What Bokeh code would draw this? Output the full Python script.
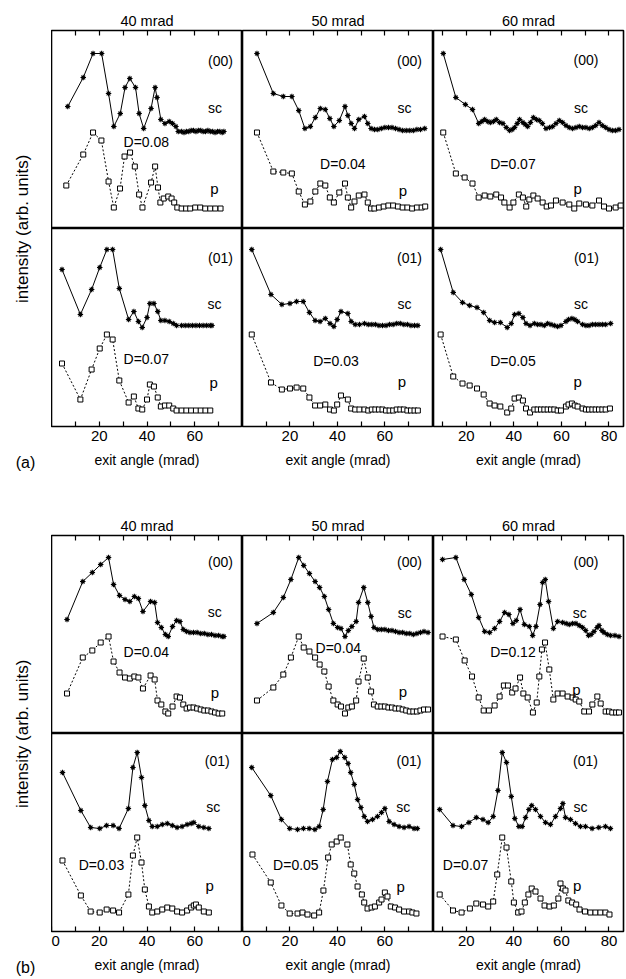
import math
from bokeh.plotting import figure
from bokeh.layouts import row, column
from bokeh.models import Range1d, FixedTicker, LinearAxis
from bokeh.core.properties import value
from bokeh.embed import file_html
from bokeh.resources import INLINE

FONT = "Liberation Sans"

# ---------------- data (exit angle in mrad, intensity in arb. units) ----------------
# panel (a), 40 mrad, (00)
A40_00_SC_X = [6.8, 13.3, 17.4, 21.0, 23.9, 26.1, 28.8, 30.8, 32.8, 35.2, 36.7, 38.6, 41.7, 43.4, 44.2, 45.8, 47.5, 49.3, 50.7, 52.1, 53.1, 54.5, 55.5, 56.5, 57.5, 58.5, 59.5, 60.5, 61.5, 62.5, 63.5, 64.5, 65.5, 66.5, 67.5, 68.5, 69.5, 70.5, 71.5, 72.2]
A40_00_SC_Y = [122, 151, 175, 175, 135, 102, 115, 141, 150, 141, 115, 100, 120, 141, 131, 109, 105, 107, 105, 102, 97, 97, 96, 97, 97, 98, 98, 97, 98, 98, 97, 97, 98, 97, 97, 96, 97, 97, 96, 97]
A40_00_P_X = [6.2, 13.3, 17.4, 20.9, 23.9, 26.1, 28.7, 30.6, 32.9, 34.9, 36.7, 38.1, 41.7, 43.4, 44.6, 45.6, 47.0, 48.9, 50.3, 51.4, 52.7, 54.5, 56.4, 58.1, 60.2, 62.3, 64.4, 66.5, 68.6, 70.8]
A40_00_P_Y = [43, 74, 96, 88, 47, 21, 40, 72, 76, 62, 34, 21, 46, 62, 41, 26, 30, 32, 30, 26, 21, 20, 20, 20, 21, 21, 20, 20, 20, 20]
# panel (a), 50 mrad, (00)
A50_00_SC_X = [6.1, 13.0, 17.2, 20.8, 23.7, 26.3, 28.6, 30.7, 32.8, 34.9, 36.8, 38.5, 40.8, 43.2, 44.4, 45.8, 47.2, 49.0, 51.4, 52.8, 54.2, 55.6, 57.0, 58.5, 60.0, 61.5, 63.0, 64.5, 66.0, 67.5, 69.0, 70.5, 72.0, 73.5, 75.0, 76.8]
A50_00_SC_Y = [175, 135, 132, 132, 118, 100, 102, 111, 120, 119, 110, 102, 108, 122, 113, 105, 100, 109, 112, 105, 100, 99, 99, 100, 101, 101, 101, 100, 99, 98, 98, 98, 98, 99, 99, 100]
A50_00_P_X = [6.1, 13.0, 17.2, 20.8, 23.7, 26.3, 28.6, 30.7, 32.8, 34.9, 36.8, 38.5, 40.8, 43.2, 44.4, 45.8, 47.2, 49.0, 51.4, 52.8, 54.2, 55.6, 57.5, 59.5, 61.5, 63.5, 65.5, 67.5, 69.5, 71.5, 73.5, 75.5, 77.0]
A50_00_P_Y = [96, 57, 56, 55, 37, 24, 27, 37, 45, 43, 31, 26, 36, 45, 31, 21, 27, 33, 34, 26, 20, 20, 21, 22, 23, 23, 22, 21, 21, 20, 21, 21, 22]
# panel (a), 60 mrad, (00)
A60_00_SC_X = [10.3, 15.6, 19.6, 22.6, 25.2, 26.5, 27.7, 29.0, 30.1, 31.4, 32.6, 34.0, 35.4, 36.8, 38.2, 39.3, 40.3, 41.4, 42.4, 43.8, 44.8, 45.8, 47.0, 48.2, 49.5, 50.7, 52.0, 53.5, 55.0, 56.3, 57.7, 59.1, 60.5, 61.9, 63.3, 64.7, 66.1, 67.5, 68.9, 70.3, 71.7, 73.0, 74.4, 75.8, 77.2, 78.6, 80.0, 81.4, 82.8, 84.2]
A60_00_SC_Y = [175, 131, 124, 119, 105, 107, 109, 107, 106, 107, 109, 106, 105, 101, 98, 99, 101, 105, 109, 106, 104, 102, 106, 111, 109, 108, 105, 100, 101, 102, 105, 108, 106, 103, 101, 100, 101, 102, 101, 101, 100, 101, 103, 106, 103, 101, 99, 98, 98, 99]
A60_00_P_X = [10.3, 15.6, 19.3, 22.6, 25.2, 27.7, 30.1, 32.6, 34.6, 36.0, 38.2, 39.8, 42.1, 43.8, 45.2, 46.5, 48.2, 50.0, 52.1, 53.8, 55.6, 57.7, 60.5, 63.3, 65.4, 67.5, 70.3, 73.0, 75.8, 77.9, 80.0, 82.8, 84.9]
A60_00_P_Y = [96, 55, 51, 45, 31, 33, 32, 34, 31, 26, 21, 26, 34, 31, 22, 29, 33, 30, 26, 22, 23, 28, 26, 24, 20, 25, 24, 23, 28, 22, 20, 21, 23]
# panel (a), 40 mrad, (01)
A40_01_SC_X = [4.4, 12.1, 16.8, 20.2, 23.2, 25.6, 28.4, 32.3, 34.5, 36.4, 38.0, 40.0, 41.2, 42.9, 44.5, 45.8, 47.5, 49.3, 51.0, 52.4, 54.5, 56.0, 57.5, 59.0, 60.5, 62.0, 63.5, 65.0, 66.5, 67.2]
A40_01_SC_Y = [157, 112, 137, 159, 177, 177, 138, 107, 115, 105, 99, 109, 123, 123, 115, 106, 106, 105, 103, 101, 101, 101, 101, 101, 101, 101, 101, 101, 101, 101]
A40_01_P_X = [4.4, 12.1, 16.8, 20.2, 23.2, 25.6, 28.4, 32.3, 34.5, 36.4, 38.0, 40.0, 41.2, 42.9, 44.5, 45.8, 47.5, 49.3, 51.0, 52.4, 54.5, 56.5, 58.5, 60.5, 62.5, 64.5, 66.5]
A40_01_P_Y = [63, 27, 57, 78, 92, 87, 46, 24, 30, 18, 17, 27, 42, 40, 29, 20, 21, 21, 18, 16, 16, 16, 16, 16, 16, 16, 16]
# panel (a), 50 mrad, (01)
A50_01_SC_X = [3.9, 12.0, 16.6, 20.0, 22.8, 25.6, 28.2, 30.6, 32.7, 34.9, 36.9, 38.5, 39.9, 41.5, 44.4, 45.8, 47.5, 49.3, 51.4, 53.0, 54.5, 56.0, 57.5, 59.0, 60.5, 62.0, 63.5, 65.0, 66.5, 68.0, 69.5, 71.0, 72.5, 73.9]
A50_01_SC_Y = [177, 132, 122, 123, 125, 125, 114, 106, 105, 108, 103, 100, 107, 115, 113, 105, 102, 102, 103, 102, 102, 102, 101, 101, 101, 102, 102, 103, 103, 102, 102, 101, 101, 101]
A50_01_P_X = [3.9, 12.0, 16.6, 20.0, 22.8, 25.6, 28.2, 30.6, 32.7, 34.9, 36.9, 38.5, 39.9, 41.5, 44.4, 45.8, 47.5, 49.3, 51.4, 53.0, 54.5, 56.0, 57.5, 59.0, 60.5, 62.0, 63.5, 65.0, 66.5, 68.0, 69.5, 71.0, 72.5, 73.9]
A50_01_P_Y = [92, 44, 37, 38, 39, 38, 29, 21, 21, 22, 17, 16, 22, 31, 27, 18, 17, 17, 17, 16, 17, 17, 17, 17, 16, 16, 16, 17, 17, 17, 16, 16, 16, 16]
# panel (a), 60 mrad, (01)
A60_01_SC_X = [9.2, 14.5, 18.4, 21.4, 24.5, 27.3, 29.8, 31.9, 34.3, 37.2, 38.9, 40.3, 42.1, 43.8, 45.1, 46.8, 48.6, 50.0, 51.4, 52.8, 54.2, 55.6, 57.0, 58.4, 59.8, 61.9, 63.0, 64.4, 65.6, 66.8, 68.9, 70.3, 71.6, 73.0, 74.4, 75.8, 77.2, 78.6, 80.7]
A60_01_SC_Y = [177, 134, 124, 121, 119, 114, 106, 104, 104, 99, 103, 112, 113, 109, 103, 101, 103, 102, 102, 101, 103, 102, 101, 100, 101, 105, 107, 108, 107, 105, 102, 101, 101, 102, 102, 102, 102, 102, 103]
A60_01_P_X = [9.2, 14.5, 18.4, 21.4, 24.5, 27.3, 29.8, 31.9, 34.3, 37.2, 38.9, 40.3, 42.1, 43.8, 45.1, 46.8, 48.6, 50.0, 51.4, 52.8, 54.2, 55.6, 57.0, 58.4, 59.8, 61.9, 63.0, 64.4, 65.6, 66.8, 68.9, 70.3, 71.6, 73.0, 74.4, 75.8, 77.2, 78.6, 80.4]
A60_01_P_Y = [92, 50, 43, 41, 38, 32, 23, 21, 20, 14, 18, 28, 29, 26, 18, 14, 17, 17, 17, 17, 17, 17, 17, 16, 16, 20, 22, 23, 21, 20, 18, 17, 17, 17, 17, 17, 17, 17, 18]

# panel (b), 40 mrad, (00)
B40_00_SC_X = [6.5, 13.1, 17.1, 20.6, 23.9, 26.0, 28.5, 30.8, 32.8, 34.7, 36.4, 38.3, 41.5, 43.2, 44.4, 46.0, 47.7, 48.9, 50.7, 52.4, 53.8, 55.2, 56.6, 58.0, 59.5, 61.0, 62.5, 64.0, 65.5, 67.0, 68.5, 70.0, 71.5, 72.2]
B40_00_SC_Y = [114, 152, 161, 169, 176, 149, 138, 134, 132, 137, 135, 122, 132, 131, 111, 106, 99, 97, 107, 113, 112, 104, 102, 101, 101, 101, 100, 100, 99, 99, 98, 98, 97, 97]
B40_00_P_X = [6.5, 13.1, 17.1, 20.6, 23.9, 26.0, 28.5, 30.8, 32.8, 34.7, 36.4, 38.3, 41.5, 43.2, 44.4, 46.0, 47.7, 48.9, 50.7, 52.4, 53.8, 55.2, 56.6, 58.0, 59.5, 61.0, 62.5, 64.0, 65.5, 67.0, 68.5, 70.0, 71.5]
B40_00_P_Y = [40, 76, 83, 91, 97, 72, 61, 56, 55, 57, 56, 45, 58, 54, 33, 29, 22, 20, 27, 37, 36, 29, 25, 26, 26, 25, 24, 23, 23, 22, 21, 20, 20]
# panel (b), 50 mrad, (00)
B50_00_SC_X = [6.1, 13.0, 17.2, 20.4, 23.7, 25.8, 28.2, 30.6, 32.5, 34.5, 36.3, 38.3, 40.1, 41.5, 43.2, 44.6, 46.1, 47.9, 48.9, 51.1, 52.8, 54.2, 55.4, 57.0, 58.5, 60.0, 61.5, 63.0, 64.5, 66.0, 67.5, 69.0, 70.5, 72.0, 73.5, 75.0, 76.5, 78.2]
B50_00_SC_Y = [110, 121, 136, 154, 176, 168, 160, 152, 146, 137, 124, 110, 106, 105, 97, 103, 107, 112, 131, 146, 131, 117, 106, 104, 104, 104, 103, 103, 102, 101, 101, 100, 100, 99, 100, 101, 102, 101]
B50_00_P_X = [6.1, 13.0, 17.2, 20.4, 23.7, 25.8, 28.2, 30.6, 32.5, 34.5, 36.3, 38.3, 40.1, 41.5, 43.2, 44.6, 46.1, 47.9, 48.9, 51.1, 52.8, 54.2, 55.4, 57.0, 58.5, 60.0, 61.5, 63.0, 64.5, 66.0, 67.5, 69.0, 70.5, 72.0, 73.5, 75.0, 76.5, 78.2]
B50_00_P_Y = [33, 46, 59, 76, 97, 86, 82, 76, 69, 62, 47, 33, 29, 27, 20, 26, 27, 33, 52, 75, 56, 42, 29, 27, 27, 27, 26, 26, 25, 25, 24, 23, 22, 22, 22, 23, 24, 24]
# panel (b), 60 mrad, (00)
B60_00_SC_X = [10.0, 15.6, 19.1, 22.1, 25.2, 27.7, 29.8, 31.9, 34.0, 36.1, 37.9, 39.6, 41.0, 42.6, 44.4, 46.5, 47.9, 49.3, 51.0, 52.1, 53.2, 54.6, 56.6, 58.4, 60.5, 62.0, 63.3, 64.7, 66.1, 67.5, 68.9, 70.2, 71.4, 72.5, 73.7, 75.0, 75.8, 77.0, 77.9, 79.3, 80.7, 82.5, 84.2]
B60_00_SC_Y = [174, 176, 154, 139, 116, 102, 101, 105, 112, 121, 119, 110, 113, 124, 109, 107, 98, 107, 129, 151, 154, 132, 105, 112, 111, 110, 109, 110, 110, 108, 106, 103, 98, 99, 102, 106, 108, 103, 101, 99, 98, 98, 97]
B60_00_P_X = [10.0, 15.6, 19.3, 22.4, 25.2, 27.3, 29.5, 31.9, 34.0, 35.8, 37.5, 39.3, 40.7, 42.6, 44.0, 45.8, 48.0, 49.6, 50.7, 51.8, 53.1, 54.9, 56.6, 58.4, 60.5, 62.6, 64.7, 66.0, 67.5, 69.6, 71.6, 73.0, 75.1, 76.5, 78.6, 80.0, 81.4, 83.0, 84.2]
B60_00_P_Y = [97, 94, 73, 57, 36, 23, 23, 28, 37, 48, 48, 41, 45, 56, 40, 36, 21, 31, 57, 84, 91, 64, 34, 40, 40, 37, 36, 34, 32, 22, 22, 29, 37, 30, 22, 22, 21, 21, 21]
# panel (b), 40 mrad, (01)
B40_01_SC_X = [4.6, 12.3, 16.4, 20.2, 23.1, 25.8, 28.3, 32.2, 34.1, 35.9, 37.7, 39.1, 40.8, 42.2, 44.3, 46.4, 48.5, 50.6, 52.6, 54.7, 56.8, 58.5, 59.6, 61.7, 63.8, 65.9]
B40_01_SC_Y = [159, 121, 104, 103, 106, 106, 103, 123, 164, 179, 154, 126, 111, 105, 105, 107, 108, 106, 104, 105, 107, 108, 109, 105, 104, 103]
B40_01_P_X = [4.6, 12.3, 16.4, 20.2, 23.1, 25.8, 28.3, 32.2, 34.1, 35.9, 37.7, 39.1, 40.8, 42.2, 44.3, 46.4, 48.5, 50.6, 52.6, 54.7, 56.8, 58.5, 59.6, 60.5, 61.7, 63.8, 65.9]
B40_01_P_Y = [71, 36, 20, 19, 22, 21, 19, 37, 76, 94, 69, 42, 25, 19, 20, 22, 24, 23, 20, 19, 21, 24, 26, 27, 24, 20, 19]
# panel (b), 50 mrad, (01)
B50_01_SC_X = [3.9, 11.9, 16.4, 19.9, 23.2, 25.7, 28.1, 30.5, 32.3, 34.0, 35.8, 37.9, 39.7, 41.2, 43.1, 44.5, 45.6, 47.1, 48.5, 49.9, 51.3, 52.7, 54.8, 56.9, 58.6, 60.0, 61.8, 63.9, 66.0, 68.1, 70.2, 72.3, 73.7]
B50_01_SC_Y = [164, 136, 112, 103, 102, 103, 103, 102, 105, 122, 150, 172, 174, 180, 174, 168, 159, 147, 132, 124, 115, 110, 112, 115, 119, 123, 110, 107, 105, 104, 105, 103, 103]
B50_01_P_X = [4.2, 11.9, 16.4, 19.9, 23.2, 25.3, 27.4, 30.2, 32.3, 34.1, 36.1, 37.6, 39.7, 41.4, 44.2, 45.6, 47.1, 48.5, 50.3, 51.3, 52.7, 54.4, 55.8, 57.6, 58.6, 60.0, 61.1, 62.5, 64.3, 66.0, 68.1, 70.2, 71.6, 73.3]
B50_01_P_Y = [77, 49, 26, 18, 18, 19, 17, 16, 19, 41, 74, 87, 90, 94, 87, 67, 58, 45, 37, 29, 23, 24, 25, 29, 32, 39, 35, 25, 24, 22, 20, 20, 19, 18]
# panel (b), 60 mrad, (01)
B60_01_SC_X = [8.8, 14.4, 18.0, 21.1, 24.2, 27.0, 29.2, 31.3, 33.3, 35.1, 36.9, 38.9, 40.4, 42.1, 43.5, 44.9, 46.3, 47.5, 49.1, 51.2, 53.3, 55.4, 57.5, 59.6, 60.6, 61.7, 63.8, 65.9, 68.0, 70.1, 72.9, 75.7, 78.5, 80.6]
B60_01_SC_Y = [122, 106, 105, 109, 114, 112, 109, 115, 141, 179, 169, 135, 113, 105, 105, 114, 122, 126, 122, 115, 109, 107, 115, 123, 128, 114, 112, 108, 105, 105, 103, 104, 105, 103]
B60_01_P_X = [8.8, 14.4, 18.0, 21.5, 24.2, 27.0, 29.2, 31.3, 33.0, 35.1, 36.9, 38.9, 40.0, 41.8, 43.2, 44.6, 46.1, 47.5, 49.1, 51.2, 52.9, 55.0, 56.8, 58.7, 59.6, 60.6, 61.7, 62.9, 64.5, 66.2, 67.6, 69.9, 72.2, 74.3, 76.4, 78.5, 80.2]
B60_01_P_Y = [37, 21, 19, 23, 28, 27, 25, 30, 57, 94, 84, 50, 29, 19, 20, 29, 37, 43, 40, 33, 26, 25, 26, 33, 48, 43, 41, 31, 29, 27, 22, 20, 19, 19, 19, 19, 17]

# labels
COL_TITLES = ["40 mrad", "50 mrad", "60 mrad"]
REFLEX = ["(00)", "(01)"]
D_A = [["D=0.08", "D=0.04", "D=0.07"], ["D=0.07", "D=0.03", "D=0.05"]]
D_B = [["D=0.04", "D=0.04", "D=0.12"], ["D=0.03", "D=0.05", "D=0.07"]]
X_LABEL = "exit angle (mrad)"
Y_LABEL = "intensity (arb. units)"

# ---------------- layout settings ----------------
X_RANGES = [(0, 80), (0, 80.5), (6.2, 86.1)]
Y_MAX = 198
COL_W = [191, 191, 193]
TOP_H = 228
TOP_BORDER = 30
BOT_BORDER = {"a": 79, "b": 48}
TICKS = [list(range(10, 80, 10)), list(range(10, 80, 10)), list(range(10, 90, 10))]
TICKS_B = [list(range(0, 80, 10)), list(range(0, 80, 10)), list(range(10, 90, 10))]
YLABEL_SIZE = 17
YLABEL_LEN = 149  # approx. rendered length of the y label in px

# text positions (x in mrad, y in arb. units) per panel/row/col
D_POS = {
    "a": [[(39.7, 87), (42.3, 65), (39.6, 65)], [(39.7, 68), (39.4, 66), (39.6, 66)]],
    "b": [[(39.7, 82), (40.4, 86), (39.6, 82)], [(20.9, 67), (22.5, 67), (19.7, 67)]],
}
P_POS = {
    "a": [[(68.2, 40), (67.6, 38), (66.8, 40)], [(67.9, 44), (67.2, 45), (66.8, 45)]],
    "b": [[(68.4, 41), (67.6, 42), (66.3, 44)], [(66.3, 46), (66.7, 45), (66.6, 46)]],
}
SC_POS = {
    "a": [[(68.5, 121), (68.3, 121), (68.2, 121)], [(68.3, 123), (68.3, 123), (68.2, 123)]],
    "b": [[(68.4, 122), (68.4, 121), (67.7, 121)], [(67.7, 125), (67.8, 125), (68.0, 125)]],
}
R_POS = {
    "a": [[(70.8, 168), (70.4, 168), (70.3, 169)], [(70.8, 169), (70.4, 169), (70.5, 169)]],
    "b": [[(70.8, 172), (70.4, 172), (70.3, 172)], [(69.4, 171), (70.2, 171), (70.1, 171)]],
}

DATA = {
    "a": [[(A40_00_SC_X, A40_00_SC_Y, A40_00_P_X, A40_00_P_Y),
           (A50_00_SC_X, A50_00_SC_Y, A50_00_P_X, A50_00_P_Y),
           (A60_00_SC_X, A60_00_SC_Y, A60_00_P_X, A60_00_P_Y)],
          [(A40_01_SC_X, A40_01_SC_Y, A40_01_P_X, A40_01_P_Y),
           (A50_01_SC_X, A50_01_SC_Y, A50_01_P_X, A50_01_P_Y),
           (A60_01_SC_X, A60_01_SC_Y, A60_01_P_X, A60_01_P_Y)]],
    "b": [[(B40_00_SC_X, B40_00_SC_Y, B40_00_P_X, B40_00_P_Y),
           (B50_00_SC_X, B50_00_SC_Y, B50_00_P_X, B50_00_P_Y),
           (B60_00_SC_X, B60_00_SC_Y, B60_00_P_X, B60_00_P_Y)],
          [(B40_01_SC_X, B40_01_SC_Y, B40_01_P_X, B40_01_P_Y),
           (B50_01_SC_X, B50_01_SC_Y, B50_01_P_X, B50_01_P_Y),
           (B60_01_SC_X, B60_01_SC_Y, B60_01_P_X, B60_01_P_Y)]],
}


def add_text(f, x, y, t, size="14px", align="center"):
    f.text(x=[x], y=[y], text=[t], text_font=value(FONT), text_font_size=size,
           text_align=align, text_baseline="middle", text_color="black")


def subplot(panel, r, c):
    top = (r == 0)
    h = TOP_H if top else Y_MAX + BOT_BORDER[panel]
    f = figure(width=COL_W[c], height=h, x_range=Range1d(*X_RANGES[c]), y_range=Range1d(0, Y_MAX),
               output_backend="svg", toolbar_location=None,
               x_axis_location=None, y_axis_location=None,
               min_border_left=0, min_border_right=(COL_W[c] - 190 if c == 2 else 0),
               min_border_top=(TOP_BORDER if top else 0),
               min_border_bottom=(0 if top else BOT_BORDER[panel]),
               title=(COL_TITLES[c] if top else None))
    f.outline_line_color = "black"
    f.outline_line_width = 1.6
    f.background_fill_color = "white"
    f.border_fill_color = "white"
    f.xgrid.grid_line_color = None
    f.ygrid.grid_line_color = None
    if top:
        f.title.align = "center"
        f.title.text_font = FONT
        f.title.text_font_size = "14.5px"
        f.title.text_font_style = "normal"
        f.title.text_color = "black"
        f.title.standoff = 4
        ax = LinearAxis(ticker=FixedTicker(ticks=TICKS[c]), major_tick_in=5, major_tick_out=0,
                        minor_tick_line_color=None, axis_line_color=None,
                        major_label_text_font_size="0px", major_label_standoff=0,
                        major_tick_line_width=1.2, major_tick_line_color="black")
        f.add_layout(ax, "above")
    else:
        ticks = TICKS[c] if panel == "a" else TICKS_B[c]
        shown = [20, 40, 60, 80] if panel == "a" else ([0, 20, 40, 60] if c < 2 else [20, 40, 60, 80])
        overrides = {t: ("" if t not in shown else str(t)) for t in ticks}
        ax = LinearAxis(ticker=FixedTicker(ticks=ticks), major_label_overrides=overrides,
                        major_tick_in=5, major_tick_out=0, minor_tick_line_color=None,
                        axis_line_color=None, major_tick_line_width=1.2, major_tick_line_color="black",
                        major_label_text_font=FONT, major_label_text_font_size="15px",
                        major_label_text_color="black", major_label_standoff=4,
                        axis_label=X_LABEL, axis_label_text_font=FONT, axis_label_text_font_size="14px",
                        axis_label_text_font_style="normal", axis_label_text_color="black",
                        axis_label_standoff=8)
        f.add_layout(ax, "below")

    sx, sy, px, py = DATA[panel][r][c]
    f.line(sx, sy, line_color="black", line_width=1)
    f.scatter(sx, sy, marker="asterisk", size=5.5, line_color="black", line_width=1.1)
    f.line(px, py, line_color="black", line_width=1, line_dash="2 2")
    f.scatter(px, py, marker="square", size=5, fill_color="white", line_color="black", line_width=1)

    dtexts = D_A if panel == "a" else D_B
    add_text(f, *R_POS[panel][r][c], REFLEX[r])
    add_text(f, *SC_POS[panel][r][c], "sc")
    add_text(f, *P_POS[panel][r][c], "p", size="15px")
    add_text(f, *D_POS[panel][r][c], dtexts[r][c])
    return f


def label_fig(panel, letter):
    h = TOP_H + Y_MAX + BOT_BORDER[panel]
    f = figure(width=51, height=h, x_range=Range1d(0, 51), y_range=Range1d(0, h),
               output_backend="svg", toolbar_location=None, x_axis_location=None, y_axis_location=None,
               min_border=0, title=None)
    f.outline_line_color = None
    f.xgrid.grid_line_color = None
    f.ygrid.grid_line_color = None
    f.background_fill_color = "white"
    f.border_fill_color = "white"
    # y label: starts at its lower end and reads upwards, centred on the two rows
    y_start = h - (TOP_BORDER + Y_MAX + YLABEL_LEN / 2)
    f.text(x=[22], y=[y_start], text=[Y_LABEL], angle=math.pi / 2,
           text_font=value(FONT), text_font_size=f"{YLABEL_SIZE}px", text_align="left",
           text_baseline="middle", text_color="black")
    f.text(x=[25], y=[h - (TOP_H + Y_MAX + 36)], text=[letter], text_font=value(FONT),
           text_font_size="16px", text_align="center", text_baseline="middle", text_color="black")
    return f


def panel_layout(panel, letter):
    rows = [row(*[subplot(panel, r, c) for c in range(3)], spacing=0) for r in range(2)]
    return row(label_fig(panel, letter), column(*rows, spacing=0), spacing=0)


page = column(panel_layout("a", "(a)"), panel_layout("b", "(b)"), spacing=0)

open("out.html", "w").write(file_html(page, INLINE))
